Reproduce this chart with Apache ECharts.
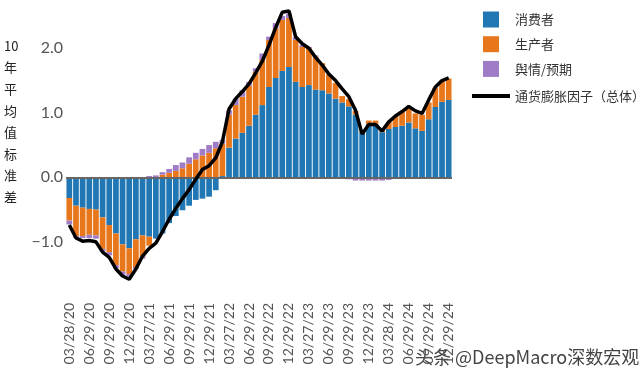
<!DOCTYPE html>
<html>
<head>
<meta charset="utf-8">
<script src="https://cdn.jsdelivr.net/npm/echarts@6/dist/echarts.min.js"></script>
<style>
  html, body { margin: 0; padding: 0; background: #fff; }
  #chart { width: 640px; height: 375px; }
</style>
</head>
<body>
<div id="chart"></div>
<script>
// 月度日期（每季度显示一个标签）
var dates = [
  '03/28/20', '04/29/20', '05/29/20', '06/29/20', '07/29/20', '08/28/20', '09/29/20', '10/29/20', '11/27/20', '12/29/20',
  '01/29/21', '02/26/21', '03/27/21', '04/29/21', '05/28/21', '06/29/21', '07/29/21', '08/27/21', '09/29/21', '10/29/21', '11/29/21', '12/29/21',
  '01/28/22', '02/28/22', '03/27/22', '04/29/22', '05/27/22', '06/29/22', '07/29/22', '08/29/22', '09/29/22', '10/28/22', '11/29/22', '12/29/22',
  '01/27/23', '02/28/23', '03/27/23', '04/28/23', '05/29/23', '06/29/23', '07/28/23', '08/29/23', '09/29/23', '10/27/23', '11/29/23', '12/29/23',
  '01/29/24', '02/29/24', '03/28/24', '04/29/24', '05/29/24', '06/29/24', '07/29/24', '08/29/24', '09/29/24', '10/29/24', '11/29/24', '12/29/24'
]
var consumer = [
  -0.32, -0.44, -0.47, -0.49, -0.50, -0.62, -0.74, -0.87, -1.04, -1.10,
  -0.96, -0.90, -0.92, -0.95, -0.87, -0.71, -0.60, -0.51, -0.44, -0.35, -0.33, -0.30,
  -0.20, 0.02, 0.46, 0.60, 0.69, 0.80, 0.97, 1.12, 1.40, 1.54, 1.65, 1.71,
  1.48, 1.40, 1.43, 1.36, 1.35, 1.30, 1.22, 1.16, 1.10, 0.97, 0.70, 0.83,
  0.83, 0.70, 0.75, 0.78, 0.80, 0.85, 0.76, 0.72, 0.90, 1.09, 1.17, 1.20
]
var producer = [
  -0.35, -0.47, -0.44, -0.40, -0.40, -0.49, -0.42, -0.49, -0.42, -0.40,
  -0.43, -0.33, -0.14, 0.00, 0.04, 0.07, 0.10, 0.14, 0.21, 0.28, 0.34, 0.38,
  0.45, 0.50, 0.51, 0.52, 0.56, 0.62, 0.67, 0.70, 0.73, 0.77, 0.79, 0.76,
  0.65, 0.62, 0.57, 0.51, 0.42, 0.29, 0.24, 0.10, 0.11, 0.06, 0.03, 0.05,
  0.05, 0.06, 0.11, 0.17, 0.21, 0.23, 0.23, 0.25, 0.26, 0.30, 0.33, 0.33
]
var sentiment = [
  -0.06, -0.03, -0.03, -0.05, -0.05, -0.04, -0.05, -0.05, -0.05, -0.04,
  -0.03, -0.03, 0.02, 0.03, 0.04, 0.06, 0.09, 0.09, 0.10, 0.10, 0.10, 0.12,
  0.10, 0.06, 0.07, 0.10, 0.10, 0.06, 0.05, 0.10, 0.05, 0.08, 0.06, 0.07,
  0.04, 0.03, 0.02, 0.02, 0.00, 0.00, -0.01, -0.02, -0.03, -0.05, -0.05, -0.05,
  -0.05, -0.05, -0.04, -0.02, -0.02, -0.02, -0.02, -0.02, -0.02, -0.02, -0.02, -0.02
]
var inflation = [
  -0.74, -0.94, -0.99, -0.98, -1.00, -1.16, -1.24, -1.42, -1.53, -1.58,
  -1.42, -1.22, -1.10, -1.02, -0.84, -0.65, -0.48, -0.33, -0.19, -0.03, 0.12, 0.18,
  0.30, 0.55, 1.06, 1.22, 1.33, 1.45, 1.62, 1.80, 2.05, 2.32, 2.56, 2.58,
  2.18, 2.07, 2.00, 1.86, 1.74, 1.60, 1.50, 1.37, 1.25, 1.04, 0.67, 0.82,
  0.82, 0.72, 0.86, 0.95, 1.02, 1.10, 1.03, 0.99, 1.20, 1.40, 1.50, 1.54
]
var yTicks = [-1, 0, 1, 2]

var colors = ['#2077b4', '#e8761a', '#a07cc6']
var cjk = '"Noto Sans CJK SC", sans-serif'

var chart = echarts.init(document.getElementById('chart'))

var option = {
  animation: false,
  color: colors,
  grid: {
    left: 66,
    right: 188,
    top: 9.6,
    bottom: 88
  },
  legend: [
    {
      orient: 'vertical',
      left: 478,
      top: 6.5,
      itemWidth: 16,
      itemHeight: 16,
      itemGap: 8.7,
      icon: 'rect',
      data: ['消费者', '生产者', '舆情/预期'],
      textStyle: { fontFamily: cjk, fontSize: 13, color: '#333', padding: [0, 0, 0, 11] }
    },
    {
      left: 467,
      top: 82,
      itemWidth: 38,
      itemHeight: 4,
      icon: 'rect',
      data: ['通货膨胀因子（总体）'],
      textStyle: { fontFamily: cjk, fontSize: 13, color: '#333', lineHeight: 18 }
    }
  ],
  xAxis: {
    type: 'category',
    data: dates,
    axisLine: { show: false, onZero: false },
    axisTick: { show: false },
    axisLabel: {
      interval: 2,
      rotate: 90,
      margin: 16,
      color: '#555',
      fontFamily: 'Lato',
      fontSize: 14
    }
  },
  yAxis: {
    type: 'value',
    min: -1.7,
    max: 2.6,
    splitLine: { show: false },
    axisLine: { show: false },
    axisTick: { show: false },
    axisLabel: {
      customValues: yTicks,
      margin: 3,
      color: '#555',
      fontFamily: 'Lato',
      fontSize: 16,
      formatter: function(v) {
        return (v < 0 ? '\u2212' : '') + Math.abs(v).toFixed(1)
      }
    }
  },
  graphic: [
    {
      type: 'text',
      left: 4,
      top: 35,
      style: {
        text: '10\n年\n平\n均\n值\n标\n准\n差',
        font: '13px ' + cjk,
        fill: '#222',
        lineHeight: 21.6,
        align: 'center'
      }
    },
    {
      type: 'text',
      left: 414,
      top: 347,
      style: {
        text: '头条 @DeepMacro深数宏观',
        font: '18px ' + cjk,
        fill: '#444',
        stroke: '#fff',
        lineWidth: 2
      }
    }
  ],
  series: [
    {
      name: '消费者',
      type: 'bar',
      stack: 'total',
      barCategoryGap: '14%',
      data: consumer,
      markLine: {
        silent: true,
        symbol: ['none', 'none'],
        label: { show: false },
        lineStyle: { color: '#666', width: 2, type: 'solid' },
        data: [{ yAxis: 0 }]
      }
    },
    {
      name: '生产者',
      type: 'bar',
      stack: 'total',
      data: producer
    },
    {
      name: '舆情/预期',
      type: 'bar',
      stack: 'total',
      data: sentiment
    },
    {
      name: '通货膨胀因子（总体）',
      type: 'line',
      data: inflation,
      symbol: 'none',
      z: 5,
      itemStyle: { color: '#000' },
      lineStyle: { color: '#000', width: 3.5 }
    }
  ]
}

chart.setOption(option)
</script>
</body>
</html>
